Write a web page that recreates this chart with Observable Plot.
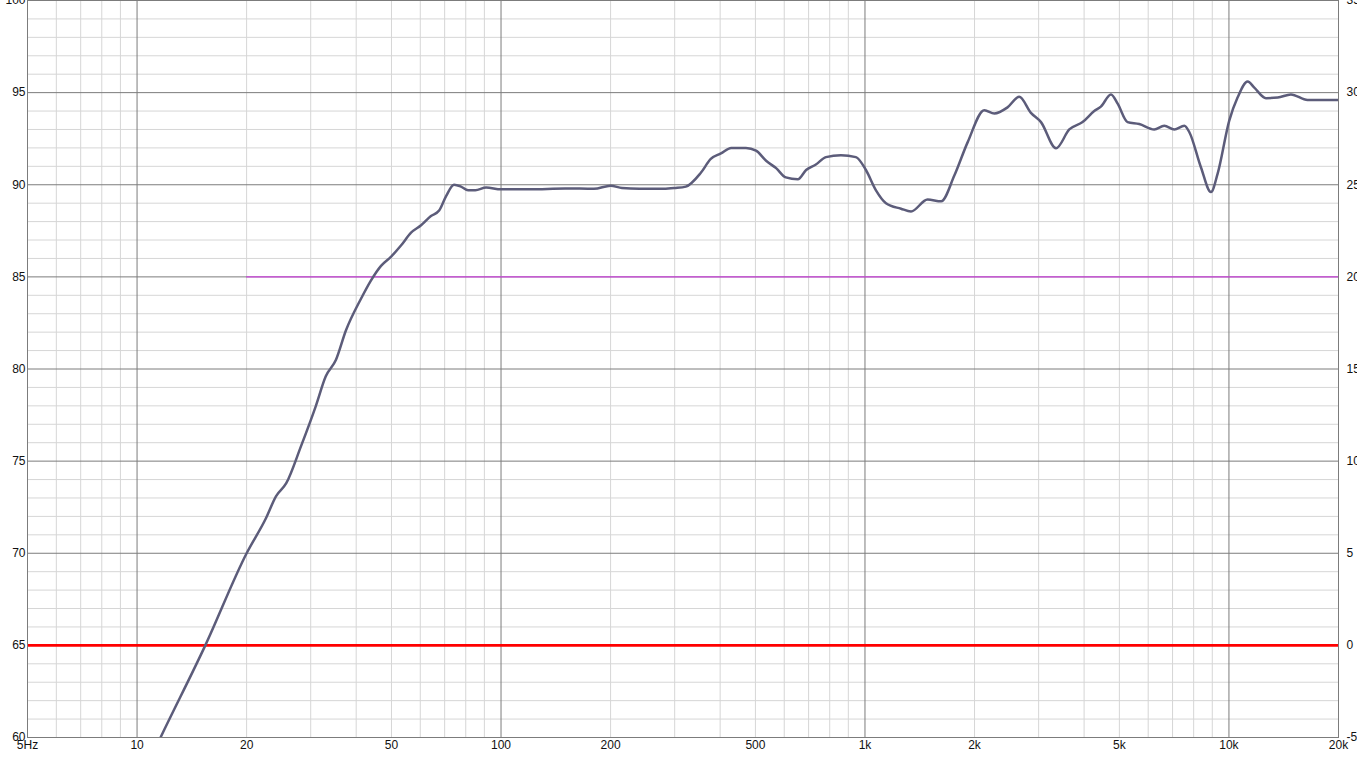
<!DOCTYPE html>
<html>
<head>
<meta charset="utf-8">
<script src="https://cdn.jsdelivr.net/npm/d3@7"></script>
<script src="https://cdn.jsdelivr.net/npm/@observablehq/plot@0.6"></script>
<style>
  html, body { margin: 0; padding: 0; background: #fff; }
  #chart svg { display: block; }
</style>
</head>
<body>
<div id="chart"></div>
<script>
// Frequency response (Hz, dB SPL)
const freqs = [10, 11.6, 15.4, 20, 22.6, 24.1, 25.7, 28.2, 31.0, 33.0, 35.2, 37.5, 41.2, 43.9, 46.8, 49.9, 53.1, 56.6, 60.3, 64.2, 67.6, 70.7, 74.3, 77.6, 81.2, 85, 91, 100, 120, 150, 180, 200, 215, 240, 280, 300, 322, 354, 377, 402, 429, 471, 502, 535, 570, 606, 654, 689, 733, 781, 859, 944, 1006, 1072, 1142, 1256, 1338, 1486, 1619, 1760, 1914, 2128, 2266, 2464, 2653, 2857, 3045, 3350, 3642, 3962, 4265, 4448, 4742, 4946, 5265, 5669, 6233, 6642, 7079, 7543, 7785, 8375, 8925, 9310, 10020, 10560, 11260, 11740, 12640, 13620, 14800, 16440, 20000];
const spl   = [57.3, 60, 65, 70, 71.9, 73.1, 73.8, 75.8, 78.0, 79.6, 80.5, 82.1, 83.8, 84.8, 85.6, 86.1, 86.7, 87.4, 87.8, 88.3, 88.6, 89.4, 90.0, 89.9, 89.7, 89.7, 89.85, 89.75, 89.75, 89.8, 89.78, 89.95, 89.82, 89.78, 89.78, 89.82, 89.9, 90.65, 91.4, 91.7, 92.0, 92.0, 91.85, 91.3, 90.9, 90.4, 90.3, 90.8, 91.1, 91.5, 91.6, 91.5, 90.8, 89.7, 89.0, 88.7, 88.55, 89.2, 89.1, 90.5, 92.3, 94.05, 93.87, 94.2, 94.77, 93.9, 93.4, 91.98, 93.0, 93.4, 94.0, 94.24, 94.9, 94.4, 93.4, 93.3, 93.0, 93.2, 93.0, 93.2, 92.85, 90.95, 89.6, 90.6, 93.48, 94.73, 95.6, 95.27, 94.7, 94.73, 94.9, 94.6, 94.6];

// Reference levels (dB)
const redLevel = [{ level: 65, from: 5, to: 20000 }];
const magentaLevel = [{ level: 85, from: 20, to: 20000 }];

// Axes
const xTickValues = [5, 10, 20, 50, 100, 200, 500, 1000, 2000, 5000, 10000, 20000];
const xTickLabels = ["5Hz", "10", "20", "50", "100", "200", "500", "1k", "2k", "5k", "10k", "20k"];
const majorFreqs = [10, 100, 1000, 10000];
const minorFreqs = [6, 7, 8, 9, 20, 30, 40, 50, 60, 70, 80, 90, 200, 300, 400, 500, 600, 700, 800, 900, 2000, 3000, 4000, 5000, 6000, 7000, 8000, 9000];
const yTicks = [60, 65, 70, 75, 80, 85, 90, 95, 100];
const rightOffset = 65;
const minorLevels = d3.range(60, 101).filter(v => v % 5 !== 0);

const data = freqs.map((f, i) => ({ f, db: spl[i] }));
const xLabels = xTickValues.map((v, i) => ({ f: v, label: xTickLabels[i] }));
const leftLabels = yTicks.map(v => ({ db: v, label: String(v) }));
const rightLabels = yTicks.map(v => ({ db: v, label: String(v - rightOffset) }));

const chart = Plot.plot({
  width: 1357,
  height: 762,
  marginTop: 0,
  marginBottom: 25,
  marginLeft: 27,
  marginRight: 19,
  style: { fontFamily: "'Liberation Sans', Arial, sans-serif", fontSize: "12px", color: "#111", background: "#fff" },
  x: { type: "log", domain: [5, 20000], axis: null },
  y: { domain: [60, 100], axis: null },
  marks: [
    Plot.ruleX(minorFreqs, { stroke: "#d6d6d6", strokeWidth: 1 }),
    Plot.ruleY(minorLevels, { stroke: "#d6d6d6", strokeWidth: 1 }),
    Plot.ruleX(majorFreqs, { stroke: "#7c7c7c", strokeWidth: 1 }),
    Plot.ruleY(yTicks, { stroke: "#7c7c7c", strokeWidth: 1 }),
    Plot.ruleY(magentaLevel, { y: "level", x1: "from", x2: "to", stroke: "#cc44dd", strokeWidth: 1.2 }),
    Plot.ruleY(redLevel, { y: "level", x1: "from", x2: "to", stroke: "#ff0000", strokeWidth: 2.6 }),
    Plot.line(data, { x: "f", y: "db", stroke: "#5c5c7a", strokeWidth: 2.5, curve: "monotone-x", clip: true }),
    Plot.frame({ stroke: "#7c7c7c" }),
    Plot.text(xLabels, { x: "f", text: "label", frameAnchor: "bottom", lineAnchor: "top", dy: 3, fill: "#111", fontSize: 12 }),
    Plot.text(leftLabels, { y: "db", text: "label", frameAnchor: "left", textAnchor: "end", dx: -2, fill: "#111", fontSize: 12 }),
    Plot.text(rightLabels, { y: "db", text: "label", frameAnchor: "right", textAnchor: "start", dx: 8, fill: "#111", fontSize: 12 })
  ]
});

document.getElementById("chart").appendChild(chart);
</script>
</body>
</html>
